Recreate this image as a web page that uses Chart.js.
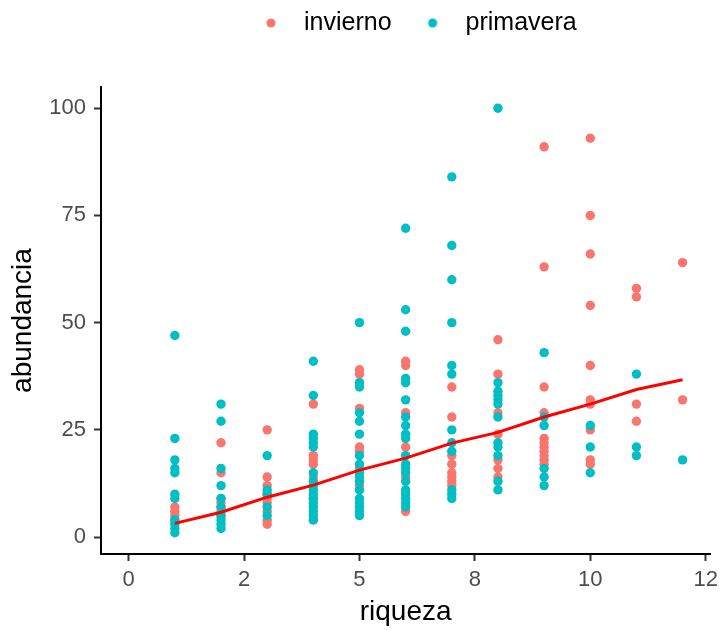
<!DOCTYPE html>
<html>
<head>
<meta charset="utf-8">
<script src="https://cdn.jsdelivr.net/npm/chart.js@4.4.1/dist/chart.umd.min.js"></script>
<style>
  body { margin: 0; background: #fff; }
</style>
</head>
<body>
<canvas id="grafico" width="724" height="631"></canvas>
<script>
// Datos (riqueza vs abundancia)
const riqueza = [1, 2, 3, 4, 5, 6, 7, 8, 9, 10, 11, 12];

// abundancia por valor de riqueza
const invierno = [
  [7, 6, 5, 4],
  [22, 15, 9, 8, 7, 6, 5],
  [25, 14, 12, 10, 9, 8, 6, 4, 3],
  [31, 19, 18, 17, 14, 9, 4],
  [39, 38, 30, 21, 20, 16, 12],
  [41, 40, 29, 21, 14, 6],
  [35, 28, 19, 17, 15, 14, 13, 12],
  [46, 38, 29, 24, 18, 16, 14],
  [91, 63, 35, 29, 23, 22, 21, 20, 19, 18, 17],
  [93, 75, 66, 54, 40, 32, 31, 25, 18, 17],
  [58, 56, 31, 27],
  [64, 32]
];
const primavera = [
  [47, 23, 18, 16, 15, 10, 9, 4, 3, 2, 1],
  [31, 27, 16, 12, 9, 7, 5, 4, 3, 2],
  [19, 11, 10, 7, 5],
  [41, 33, 24, 23, 22, 21, 15, 13, 12, 11, 10, 9, 8, 7, 6, 5, 4],
  [50, 36, 35, 29, 27, 24, 19, 17, 15, 14, 13, 11, 9, 8, 7, 6, 5],
  [72, 53, 48, 37, 36, 32, 28, 26, 24, 23, 19, 17, 16, 15, 13, 11, 10, 9, 8, 7],
  [84, 68, 60, 50, 40, 38, 25, 22, 20, 11, 10, 9],
  [100, 36, 34, 33, 32, 31, 28, 22, 21, 19, 13, 11],
  [43, 28, 26, 16, 14, 12],
  [26, 21, 15],
  [38, 21, 19],
  [18]
];
// línea de tendencia
const tendencia = [3.2, 5.8, 9.3, 12.1, 15.6, 18.4, 21.9, 24.4, 28, 31, 34.4, 36.7];

// ejes
const xTicks = [0, 2.5, 5, 7.5, 10, 12.5];
const xTickLabels = ['0', '2', '5', '8', '10', '12'];
const yTicks = [0, 25, 50, 75, 100];

const colInvierno = '#F8766D';
const colPrimavera = '#00BFC4';
const fuente = "'Liberation Sans', Arial, sans-serif";

function aPuntos(grupos) {
  const pts = [];
  riqueza.forEach((r, i) => {
    grupos[i].forEach(v => pts.push({ x: r, y: v }));
  });
  return pts;
}

// punto de la leyenda
function hacerPunto(color) {
  const c = document.createElement('canvas');
  c.width = 10;
  c.height = 10;
  const g = c.getContext('2d');
  g.fillStyle = color;
  g.beginPath();
  g.arc(5, 5, 4.5, 0, Math.PI * 2);
  g.fill();
  return c;
}
const puntosLeyenda = [hacerPunto(colInvierno), hacerPunto(colPrimavera)];

// altura fija para la leyenda y pequeño desplazamiento
const espacioLeyenda = {
  id: 'espacioLeyenda',
  beforeInit(chart) {
    const fitOriginal = chart.legend.fit;
    chart.legend.fit = function fit() {
      fitOriginal.bind(chart.legend)();
      this.height = 87;
    };
  },
  afterLayout(chart) {
    const leg = chart.legend;
    leg.left += 8;
    leg.right += 8;
    leg.top -= 10;
  }
};

const ctx = document.getElementById('grafico').getContext('2d');
new Chart(ctx, {
  type: 'scatter',
  data: {
    datasets: [
      {
        label: 'invierno',
        data: aPuntos(invierno),
        backgroundColor: colInvierno,
        borderWidth: 0,
        pointRadius: 4.7,
        order: 2
      },
      {
        label: 'primavera',
        data: aPuntos(primavera),
        backgroundColor: colPrimavera,
        borderWidth: 0,
        pointRadius: 4.7,
        order: 1
      },
      {
        label: 'tendencia',
        data: riqueza.map((r, i) => ({ x: r, y: tendencia[i] })),
        showLine: true,
        borderColor: '#FF0000',
        borderWidth: 3,
        pointRadius: 0,
        order: 0
      }
    ]
  },
  options: {
    responsive: false,
    animation: false,
    layout: { padding: { left: 0, right: 10, top: 0, bottom: 0 } },
    plugins: {
      tooltip: { enabled: false },
      legend: {
        position: 'top',
        fullSize: false,
        labels: {
          usePointStyle: true,
          pointStyleWidth: 41,
          padding: 20.5,
          color: '#000',
          font: { family: fuente, size: 25 },
          generateLabels(chart) {
            return Chart.defaults.plugins.legend.labels.generateLabels(chart)
              .filter(l => l.datasetIndex < 2)
              .sort((a, b) => a.datasetIndex - b.datasetIndex)
              .map(l => ({ ...l, pointStyle: puntosLeyenda[l.datasetIndex] }));
          }
        }
      }
    },
    scales: {
      x: {
        type: 'linear',
        min: -0.6,
        max: 12.6,
        afterBuildTicks(scale) {
          scale.ticks = xTicks.map(v => ({ value: v }));
        },
        afterFit(scale) {
          scale.height = 77;
        },
        ticks: {
          autoSkip: false,
          maxRotation: 0,
          padding: 6,
          color: '#4D4D4D',
          font: { family: fuente, size: 22 },
          callback: (value, index) => xTickLabels[index]
        },
        grid: {
          drawOnChartArea: false,
          drawTicks: true,
          tickLength: 7,
          tickColor: '#333',
          tickWidth: 2
        },
        border: { display: true, color: '#000', width: 2 },
        title: {
          display: true,
          text: 'riqueza',
          color: '#000',
          font: { family: fuente, size: 28 },
          padding: { top: 4, bottom: 2 }
        }
      },
      y: {
        type: 'linear',
        min: -3.95,
        max: 104.95,
        afterBuildTicks(scale) {
          scale.ticks = yTicks.map(v => ({ value: v }));
        },
        afterFit(scale) {
          scale.width = 101;
        },
        ticks: {
          padding: 8,
          color: '#4D4D4D',
          font: { family: fuente, size: 22 }
        },
        grid: {
          drawOnChartArea: false,
          drawTicks: true,
          tickLength: 7,
          tickColor: '#333',
          tickWidth: 2
        },
        border: { display: true, color: '#000', width: 2 },
        title: {
          display: true,
          text: 'abundancia',
          color: '#000',
          font: { family: fuente, size: 28 },
          padding: { top: 6, bottom: 4 }
        }
      }
    }
  },
  plugins: [espacioLeyenda]
});
</script>
</body>
</html>
